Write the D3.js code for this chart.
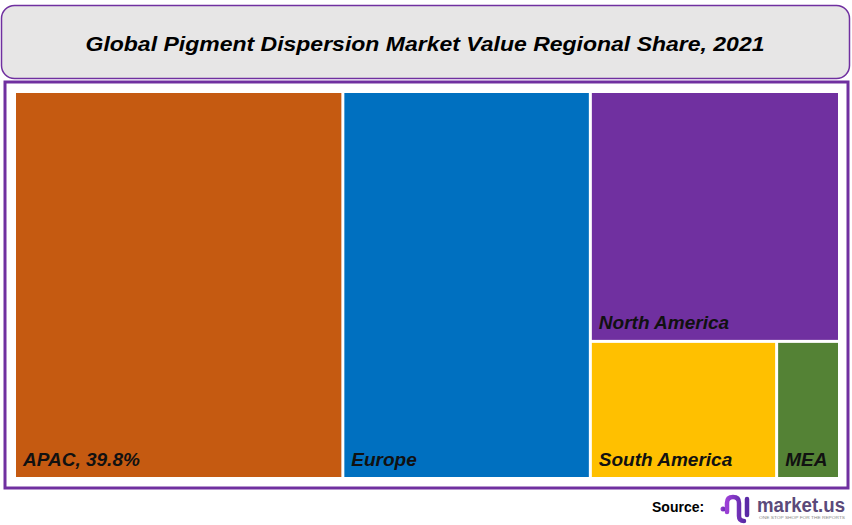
<!DOCTYPE html>
<html>
<head>
<meta charset="utf-8">
<script src="https://cdn.jsdelivr.net/npm/d3@7"></script>
<style>
  body { margin: 0; background: #fff; }
  text { font-family: "Liberation Sans", Arial, sans-serif; }
</style>
</head>
<body>
<script>
// regional share, 2021 (percent)
var regions = ["APAC", "Europe", "North America", "South America", "MEA"];
var shares = [39.8, 30.0, 19.5, 8.0, 2.7];
var colors = ["#c55a11", "#0070c0", "#7030a0", "#ffc000", "#548235"];
var labels = ["APAC, 39.8%", "Europe", "North America", "South America", "MEA"];

var w = 852, h = 525;

var svg = d3.select("body").append("svg")
    .attr("width", w)
    .attr("height", h);

// title box
svg.append("rect")
    .attr("x", 1.5).attr("y", 5.5)
    .attr("width", 848).attr("height", 73)
    .attr("rx", 13)
    .style("fill", "#e7e6e6")
    .style("stroke", "#7030a0")
    .style("stroke-width", 1.5);

svg.append("text")
    .attr("x", 425).attr("y", 51)
    .attr("text-anchor", "middle")
    .attr("textLength", 679)
    .attr("lengthAdjust", "spacingAndGlyphs")
    .style("font-size", "21px")
    .style("font-weight", "bold")
    .style("font-style", "italic")
    .text("Global Pigment Dispersion Market Value Regional Share, 2021");

// chart frame
svg.append("rect")
    .attr("x", 5).attr("y", 82)
    .attr("width", 843).attr("height", 406)
    .style("fill", "#fff")
    .style("stroke", "#7030a0")
    .style("stroke-width", 3);

var root = d3.hierarchy({
        children: regions.map(function(r, i) {
            return { name: r, value: shares[i], color: colors[i], label: labels[i] };
        })
    })
    .sum(function(d) { return d.value || 0; });

d3.treemap()
    .tile(d3.treemapBinary)
    .size([822, 384])
    .paddingInner(3)
    (root);

var g = svg.append("g").attr("transform", "translate(16,93)");

var cell = g.selectAll("g.cell")
    .data(root.leaves())
    .enter()
    .append("g")
    .attr("class", "cell");

cell.append("rect")
    .attr("x", function(d) { return d.x0; })
    .attr("y", function(d) { return d.y0; })
    .attr("width", function(d) { return d.x1 - d.x0; })
    .attr("height", function(d) { return d.y1 - d.y0; })
    .style("fill", function(d) { return d.data.color; });

cell.append("text")
    .attr("x", function(d) { return d.x0 + 7; })
    .attr("y", function(d) { return d.y1 - 11; })
    .style("font-size", "19px")
    .style("font-weight", "bold")
    .style("font-style", "italic")
    .style("fill", "#111")
    .text(function(d) { return d.data.label; });

// source + logo
svg.append("text")
    .attr("x", 652).attr("y", 512)
    .style("font-size", "14px")
    .style("font-weight", "bold")
    .text("Source:");

var logo = svg.append("g").attr("transform", "translate(720,494)");
var grad = svg.append("defs").append("linearGradient")
    .attr("id", "lg").attr("x1", "0").attr("x2", "1");
grad.append("stop").attr("offset", "0").attr("stop-color", "#9b3fd6");
grad.append("stop").attr("offset", "1").attr("stop-color", "#5a2aa6");

logo.append("circle").attr("cx", 3).attr("cy", 15).attr("r", 2.5).style("fill", "url(#lg)");
logo.append("path")
    .attr("d", "M7,18 L7,9 Q7,3 13,3 Q19,3 19,9 L19,22 Q19,27 24,27")
    .style("fill", "none")
    .style("stroke", "url(#lg)")
    .style("stroke-width", 4.5)
    .style("stroke-linecap", "round");
logo.append("line")
    .attr("x1", 27).attr("y1", 5).attr("x2", 27).attr("y2", 21)
    .style("stroke", "#5a2aa6")
    .style("stroke-width", 4.5)
    .style("stroke-linecap", "round");

svg.append("text")
    .attr("x", 757).attr("y", 512)
    .attr("textLength", 88)
    .attr("lengthAdjust", "spacingAndGlyphs")
    .style("font-size", "20px")
    .style("font-weight", "bold")
    .style("fill", "#5b4a7a")
    .text("market.us");

svg.append("text")
    .attr("x", 759).attr("y", 519)
    .attr("textLength", 86)
    .attr("lengthAdjust", "spacingAndGlyphs")
    .style("font-size", "4px")
    .style("fill", "#888")
    .text("ONE STOP SHOP FOR THE REPORTS");
</script>
</body>
</html>
